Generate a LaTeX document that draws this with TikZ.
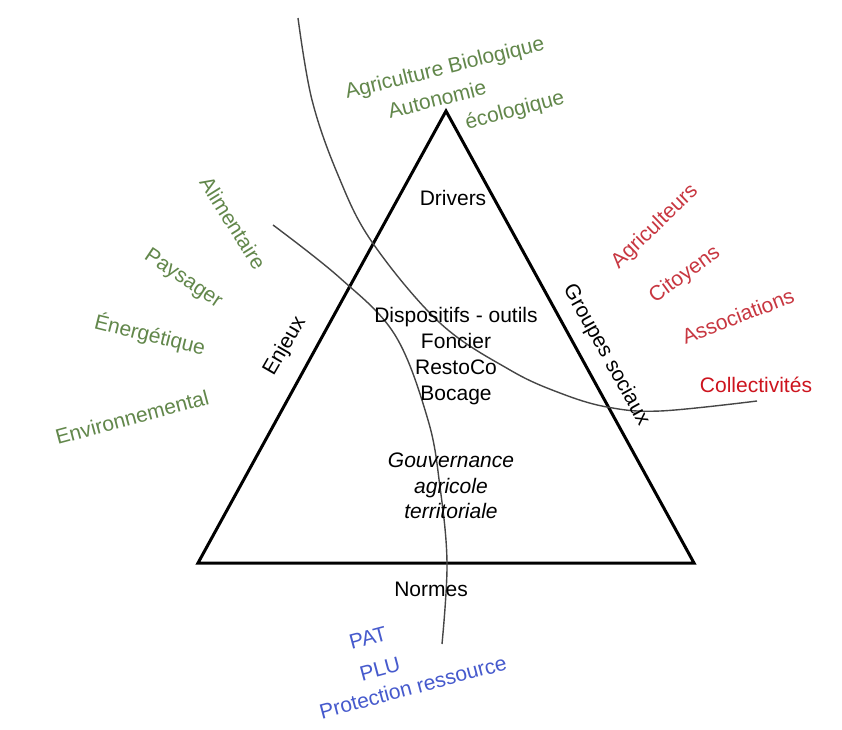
\documentclass[tikz,border=0pt]{standalone}
\usepackage{fontspec}
\setmainfont{Liberation Sans}
\definecolor{envgreen}{RGB}{98,135,75}
\definecolor{grpred}{RGB}{200,55,65}
\definecolor{colred}{RGB}{205,20,30}
\definecolor{normblue}{RGB}{70,90,205}
\definecolor{curvegray}{RGB}{70,70,70}
\begin{document}
\begin{tikzpicture}[x=1pt,y=-1pt,
  lbl/.style={font=\fontsize{21}{26}\selectfont, inner sep=0pt, align=center},
  enjeu/.style={lbl, text=envgreen},
  groupe/.style={lbl, text=grpred},
  norme/.style={lbl, text=normblue},
  sidelbl/.style={lbl, text=black},
  edge/.style={line width=3pt, line join=miter},
  sweep/.style={line width=1.4pt, curvegray}]
\useasboundingbox (0,0) rectangle (842,729);
\fill[white] (0,0) rectangle (842,729);

% triangle
\coordinate (A) at (446,111);
\coordinate (B) at (198,563);
\coordinate (C) at (694,563);
\draw[edge] (A) -- (B) -- (C) -- cycle;

% curves
\draw[sweep] plot[smooth, tension=0.6] coordinates {(298,18) (312,100) (338,175) (372,242) (440,323) (510,370) (560,393) (607,407) (660,411) (757,401)};
\draw[sweep] plot[smooth, tension=0.6] coordinates {(273,225) (340,278) (395,335) (428,420) (440,487) (447,563) (442,644)};

% inside texts
\node[sidelbl] (drivers) at (453,198) {Drivers};
\node[sidelbl] (dispo) at (456,356) {Dispositifs - outils\\Foncier\\RestoCo\\Bocage};
\node[sidelbl, font=\fontsize{21}{25.5}\selectfont\itshape] (gouv) at (451,486) {Gouvernance\\agricole\\territoriale};
\node[sidelbl] (normes) at (431,589) {Normes};
\node[sidelbl, rotate=60] (enjeux) at (285,346) {Enjeux};
\node[sidelbl, rotate=-61] (groupes) at (606,355) {Groupes sociaux};

% green (enjeux)
\node[enjeu, rotate=14] (agribio) at (445,69) {Agriculture Biologique};
\node[enjeu, rotate=14] (autonomie) at (437,99) {Autonomie};
\node[enjeu, rotate=15] (ecolo) at (515,111) {écologique};
\node[enjeu, rotate=-58] (alim) at (233,223) {Alimentaire};
\node[enjeu, rotate=-34] (paysager) at (183,279) {Paysager};
\node[enjeu, rotate=-14] (energie) at (150,335) {Énergétique};
\node[enjeu, rotate=15] (environ) at (132,417) {Environnemental};

% red (groupes)
\node[groupe, rotate=44] (agriculteurs) at (655,227) {Agriculteurs};
\node[groupe, rotate=36] (citoyens) at (685,275) {Citoyens};
\node[groupe, rotate=21] (assoc) at (738,316) {Associations};
\node[lbl, text=colred] (collect) at (756,385) {Collectivités};

% blue (normes)
\node[norme, rotate=15] (pat) at (368,638) {PAT};
\node[norme, rotate=15] (plu) at (380,669) {PLU};
\node[norme, rotate=15] (protect) at (413,687) {Protection ressource};
\end{tikzpicture}
\end{document}
